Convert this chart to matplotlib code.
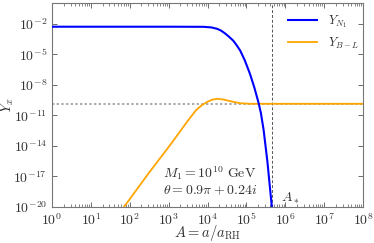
import numpy as np
import matplotlib
matplotlib.use("Agg")
import matplotlib.pyplot as plt
from matplotlib.ticker import LogLocator, NullFormatter

plt.rcParams["font.family"] = "serif"
plt.rcParams["font.serif"] = ["cmr10", "DejaVu Serif"]
plt.rcParams["mathtext.fontset"] = "cm"
plt.rcParams["axes.formatter.use_mathtext"] = True
plt.rcParams["axes.unicode_minus"] = False

# values (log10 A, log10 Y)
logA_N1 = [0.0, 3.0, 3.90, 4.10, 4.25, 4.35, 4.45, 4.55, 4.66, 4.75, 4.84, 4.96,
           5.09, 5.20, 5.31, 5.37, 5.44, 5.54, 5.65, 5.72]
logY_N1 = [-2.29, -2.29, -2.30, -2.36, -2.50, -2.68, -2.95, -3.27, -3.66, -4.12, -4.64, -5.62,
           -6.92, -8.23, -9.75, -10.75, -12.40, -15.60, -19.90, -22.5]

logA_BL = [1.60, 1.85, 2.50, 3.00, 3.50, 3.70, 3.85, 3.98, 4.12, 4.27, 4.42, 4.58,
           4.83, 5.09, 6.0, 8.0]
logY_BL = [-21.3, -20.0, -16.6, -14.1, -11.49, -10.50, -10.00, -9.70, -9.45, -9.37, -9.45, -9.60,
           -9.80, -9.86, -9.86, -9.86]

Y_obs = 1.4e-10
A_star = 4.6e5

fig = plt.figure(figsize=(3.74, 2.43), dpi=100)
ax = fig.add_axes([0.139, 0.148, 0.832, 0.838])

ax.axhline(Y_obs, color="#aaaaaa", ls=(0, (1.2, 1.2)), lw=1.4, zorder=1)
ax.axvline(A_star, color="#555555", ls=(0, (3, 2)), lw=0.7, zorder=1)

ax.plot(10 ** np.array(logA_N1), 10 ** np.array(logY_N1), color="blue", lw=1.5,
        label=r"$Y_{N_1}$", zorder=3)
ax.plot(10 ** np.array(logA_BL), 10 ** np.array(logY_BL), color="orange", lw=1.3,
        label=r"$Y_{B-L}$", zorder=2)

ax.set_xscale("log")
ax.set_yscale("log")
ax.set_xlim(1, 1e8)
ax.set_ylim(1e-20, 1)

ax.set_xticks([10.0 ** k for k in range(0, 9)])
ax.xaxis.set_minor_locator(LogLocator(base=10, subs=np.arange(2, 10), numticks=20))
ax.xaxis.set_minor_formatter(NullFormatter())
ax.set_yticks([10.0 ** k for k in [-20, -17, -14, -11, -8, -5, -2]])
ax.yaxis.set_minor_locator(plt.NullLocator())

ax.tick_params(which="both", direction="in", top=True, right=True, colors="#555555",
               labelcolor="#333333", labelsize=10)
ax.tick_params(which="major", length=3.5, width=0.6)
ax.tick_params(which="minor", length=2, width=0.5)
for s in ax.spines.values():
    s.set_color("#777777")
    s.set_linewidth(0.8)

ax.set_xlabel(r"$A = a/a_{\rm RH}$", fontsize=10.5, color="#333333")
ax.xaxis.set_label_coords(0.5, -0.08)
ax.set_ylabel(r"$Y_x$", fontsize=10.5, color="#333333")
ax.yaxis.set_label_coords(-0.115, 0.5)

ax.text(0.357, 0.165, r"$M_1 = 10^{10}\ \mathrm{GeV}$", transform=ax.transAxes,
        fontsize=10, color="#333333", va="center")
ax.text(0.357, 0.08, r"$\theta = 0.9\pi + 0.24i$", transform=ax.transAxes,
        fontsize=10, color="#333333", va="center")
ax.text(7.5e5, 1.2e-20, r"$A_*$", fontsize=10, color="#333333", va="bottom")

leg = ax.legend(loc="upper left", bbox_to_anchor=(0.743, 0.975), frameon=False, fontsize=9,
                handlelength=2.3, borderaxespad=0.0, labelspacing=0.45, handletextpad=0.9)
for t in leg.get_texts():
    t.set_color("#333333")

fig.savefig("out.png", dpi=100)
